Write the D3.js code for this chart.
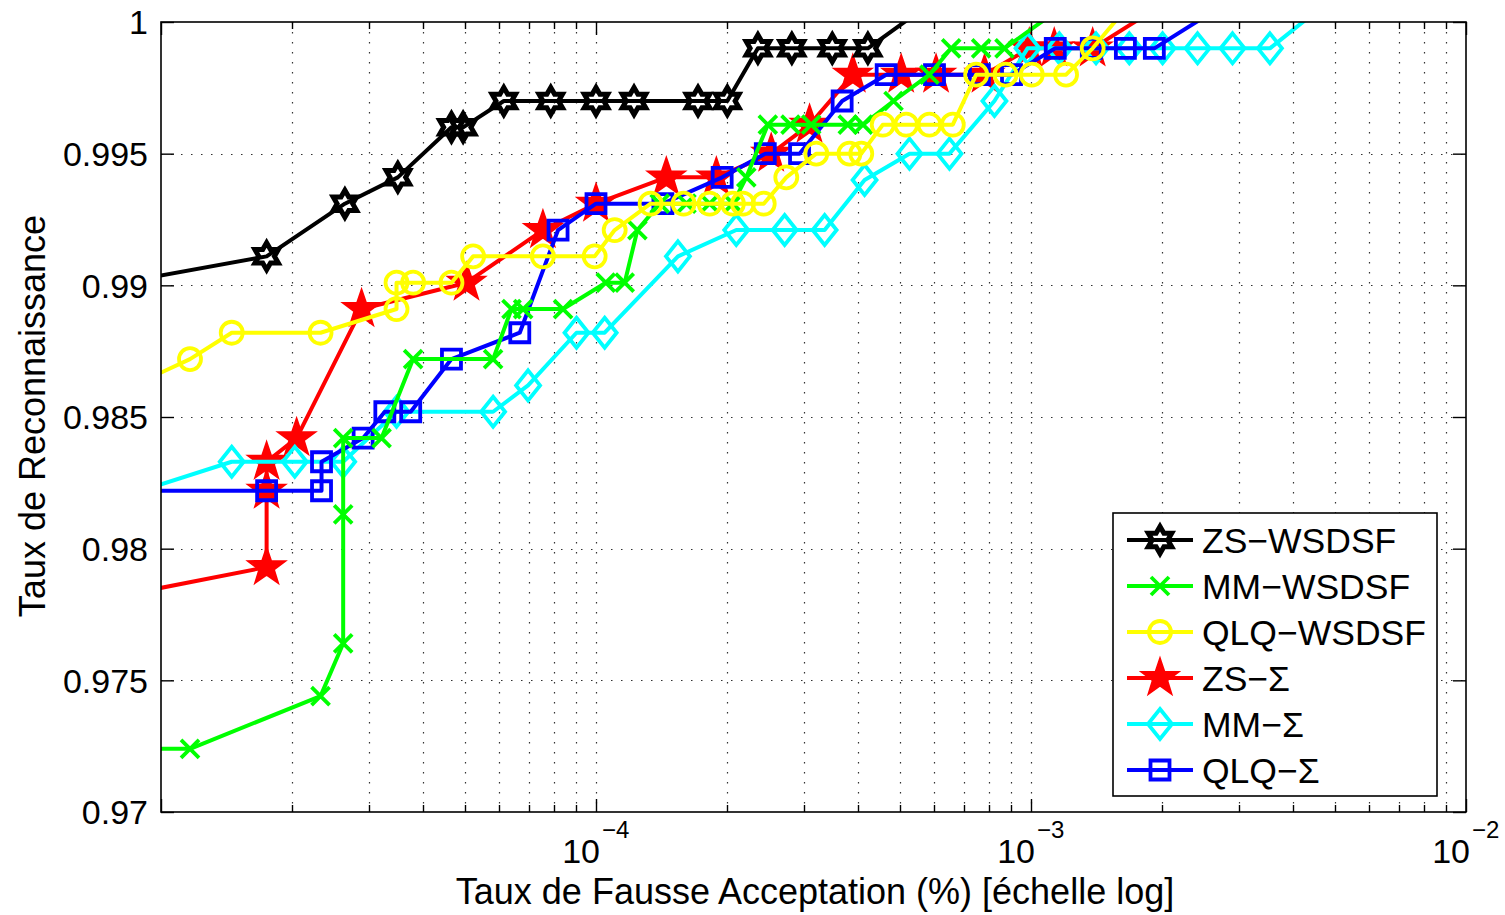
<!DOCTYPE html>
<html><head><meta charset="utf-8">
<script src="https://cdn.jsdelivr.net/npm/d3@7"></script>
<style>
body{margin:0;background:#fff;}
text{font-family:"Liberation Sans",Arial,Helvetica,sans-serif;fill:#000;}
</style>
</head><body>
<svg id="chart" width="1505" height="915"></svg>
<script>
// ---------- data ----------
const seriesNames = ["ZS\u2212WSDSF","MM\u2212WSDSF","QLQ\u2212WSDSF","ZS\u2212\u03A3","MM\u2212\u03A3","QLQ\u2212\u03A3"];

const zsWsdsfX = [8.1e-6,1.749e-5,2.647e-5,3.503e-5,4.653e-5,4.949e-5,6.138e-5,7.87e-5,1.0e-4,1.223e-4,1.716e-4,2.004e-4,2.356e-4,2.82e-4,3.493e-4,4.217e-4,6.21e-4];
const zsWsdsfY = [0.9901,0.9911,0.9931,0.9941,0.9960,0.9960,0.9970,0.9970,0.9970,0.9970,0.9970,0.9970,0.9990,0.9990,0.9990,0.9990,1.0010];

const mmWsdsfX = [8.0e-6,1.166e-5,2.327e-5,2.623e-5,2.623e-5,2.623e-5,3.214e-5,3.798e-5,5.80e-5,6.394e-5,6.80e-5,8.40e-5,1.053e-4,1.164e-4,1.245e-4,1.401e-4,1.614e-4,1.825e-4,2.064e-4,2.216e-4,2.483e-4,2.80e-4,3.124e-4,3.792e-4,4.11e-4,4.83e-4,5.84e-4,6.554e-4,7.68e-4,8.69e-4,1.283e-3];
const mmWsdsfY = [0.9724,0.9724,0.9744,0.9764,0.9813,0.9842,0.9842,0.9872,0.9872,0.9891,0.9891,0.9891,0.9901,0.9901,0.9921,0.9931,0.9931,0.9931,0.9931,0.9941,0.9961,0.9961,0.9961,0.9961,0.9961,0.9970,0.9980,0.9990,0.9990,0.9990,1.0010];

const qlqWsdsfX = [8.65e-6,1.166e-5,1.454e-5,2.327e-5,3.479e-5,3.479e-5,3.798e-5,4.653e-5,5.218e-5,7.55e-5,9.93e-5,1.104e-4,1.335e-4,1.590e-4,1.825e-4,2.064e-4,2.177e-4,2.43e-4,2.738e-4,3.209e-4,3.826e-4,4.072e-4,4.563e-4,5.165e-4,5.84e-4,6.61e-4,7.48e-4,8.74e-4,1.004e-3,1.204e-3,1.386e-3,1.75e-3];
const qlqWsdsfY = [0.9862,0.9872,0.9882,0.9882,0.9891,0.9901,0.9901,0.9901,0.9911,0.9911,0.9911,0.9921,0.9931,0.9931,0.9931,0.9931,0.9931,0.9931,0.9941,0.9950,0.9950,0.9950,0.9961,0.9961,0.9961,0.9961,0.9980,0.9980,0.9980,0.9980,0.9990,1.0010];

const zsSigmaX = [8.6e-6,1.749e-5,1.749e-5,1.749e-5,2.05e-5,2.891e-5,5.039e-5,7.55e-5,1.0e-4,1.451e-4,1.891e-4,2.528e-4,3.097e-4,3.894e-4,5.03e-4,6.05e-4,7.82e-4,9.91e-4,1.131e-3,1.386e-3,2.16e-3];
const zsSigmaY = [0.9783,0.9793,0.9822,0.9833,0.9842,0.9891,0.9901,0.9921,0.9931,0.9941,0.9941,0.9950,0.9961,0.9980,0.9980,0.9980,0.9980,0.9990,0.9990,0.9990,1.0010];

const mmSigmaX = [8.99e-6,1.454e-5,2.03e-5,2.623e-5,3.479e-5,5.80e-5,6.98e-5,9.02e-5,1.047e-4,1.543e-4,2.101e-4,2.714e-4,3.354e-4,4.144e-4,5.256e-4,6.495e-4,8.24e-4,9.82e-4,1.162e-3,1.411e-3,1.683e-3,2.007e-3,2.415e-3,2.906e-3,3.542e-3,5.02e-3];
const mmSigmaY = [0.9822,0.9833,0.9833,0.9833,0.9852,0.9852,0.9862,0.9882,0.9882,0.9911,0.9921,0.9921,0.9921,0.9940,0.9950,0.9950,0.9970,0.9990,0.9990,0.9990,0.9990,0.9990,0.9990,0.9990,0.9990,1.0010];

const qlqSigmaX = [8.0e-6,1.749e-5,2.339e-5,2.339e-5,2.915e-5,3.27e-5,3.75e-5,4.653e-5,6.68e-5,8.18e-5,1.0e-4,1.425e-4,1.95e-4,2.45e-4,2.937e-4,3.68e-4,4.646e-4,6.0e-4,7.61e-4,9.02e-4,1.137e-3,1.376e-3,1.648e-3,1.921e-3,2.996e-3];
const qlqSigmaY = [0.9822,0.9822,0.9822,0.9833,0.9842,0.9852,0.9852,0.9872,0.9882,0.9921,0.9931,0.9931,0.9941,0.9950,0.9950,0.9970,0.9980,0.9980,0.9980,0.9980,0.9990,0.9990,0.9990,0.9990,1.0010];

const yTickValues = [0.97,0.975,0.98,0.985,0.99,0.995,1];
const yTickLabels = ["0.97","0.975","0.98","0.985","0.99","0.995","1"];
const xTickValues = [1e-4,1e-3,1e-2];
const xTickBase = "10";
const xTickExponents = ["\u22124","\u22123","\u22122"];
const xLabel = "Taux de Fausse Acceptation (%) [\u00e9chelle log]";
const yLabel = "Taux de Reconnaissance";

// ---------- layout ----------
const L = 161, R = 1466, T = 22, B = 812;
const svg = d3.select("#chart");
const x = d3.scaleLog().domain([1e-5,1e-2]).range([L,R]);
const y = d3.scaleLinear().domain([0.97,1]).range([B,T]);

function polyStar(n, ro, ri){
  const pts=[];
  for(let i=0;i<2*n;i++){
    const a=-Math.PI/2+i*Math.PI/n, r=i%2?ri:ro;
    pts.push([r*Math.cos(a), r*Math.sin(a)]);
  }
  return "M"+pts.map(p=>p[0].toFixed(2)+","+p[1].toFixed(2)).join("L")+"Z";
}
const markerPath = {
  hexagram: polyStar(6,13.5,7.8),
  pentagram: polyStar(5,16.5,6.5),
  circle: "M11,0A11,11 0 1,1 -11,0A11,11 0 1,1 11,0Z",
  diamond: "M0,-15L12,0L0,15L-12,0Z",
  square: "M-9.5,-9.5L9.5,-9.5L9.5,9.5L-9.5,9.5Z",
  cross: "M-9,-9L9,9M-9,9L9,-9"
};
const markerStroke = {hexagram:5, pentagram:3.8, circle:3.8, diamond:3.8, square:3.8, cross:3.8};

const series = [
  {name:seriesNames[0], xs:zsWsdsfX, ys:zsWsdsfY, color:"#000000", marker:"hexagram", fill:false},
  {name:seriesNames[1], xs:mmWsdsfX, ys:mmWsdsfY, color:"#00ff00", marker:"cross", fill:false},
  {name:seriesNames[2], xs:qlqWsdsfX, ys:qlqWsdsfY, color:"#ffff00", marker:"circle", fill:false},
  {name:seriesNames[3], xs:zsSigmaX, ys:zsSigmaY, color:"#ff0000", marker:"pentagram", fill:true},
  {name:seriesNames[4], xs:mmSigmaX, ys:mmSigmaY, color:"#00ffff", marker:"diamond", fill:false},
  {name:seriesNames[5], xs:qlqSigmaX, ys:qlqSigmaY, color:"#0000ff", marker:"square", fill:false}
];
const drawOrder = [3,4,5,0,1,2];
const LW = 4;

svg.append("defs").append("clipPath").attr("id","plotclip")
  .append("rect").attr("x",L).attr("y",T).attr("width",R-L).attr("height",B-T);
svg.append("rect").attr("x",0).attr("y",0).attr("width",1505).attr("height",915).attr("fill","#fff");

// grid
const grid = svg.append("g").attr("stroke","#333").attr("stroke-width",1.2).attr("stroke-dasharray","1.5,8.5");
const xAll = x.ticks();
grid.selectAll("line.vg").data(xAll.filter(d=>d>1e-5 && d<1e-2)).enter().append("line")
  .attr("x1",d=>Math.round(x(d))+0.5).attr("x2",d=>Math.round(x(d))+0.5).attr("y1",T).attr("y2",B);
grid.selectAll("line.hg").data(yTickValues.filter(d=>d>0.97 && d<1)).enter().append("line")
  .attr("y1",d=>Math.round(y(d))+0.5).attr("y2",d=>Math.round(y(d))+0.5).attr("x1",L).attr("x2",R);

// series
const plot = svg.append("g").attr("clip-path","url(#plotclip)");
const line = d3.line().x(d=>x(d[0])).y(d=>y(d[1]));
drawOrder.forEach(i=>{
  const s = series[i];
  const pts = s.xs.map((v,k)=>[v,s.ys[k]]);
  const g = plot.append("g");
  g.append("path").attr("d",line(pts)).attr("fill","none").attr("stroke",s.color)
    .attr("stroke-width",LW).attr("stroke-linejoin","round");
  g.selectAll("path.m").data(pts).enter().append("path")
    .attr("d",markerPath[s.marker])
    .attr("transform",d=>`translate(${x(d[0])},${y(d[1])})`)
    .attr("fill",s.fill?s.color:"none").attr("stroke",s.color).attr("stroke-width",markerStroke[s.marker])
    .attr("stroke-linejoin","miter");
});

// axes box
const axes = svg.append("g");
axes.append("rect").attr("x",L).attr("y",T).attr("width",R-L).attr("height",B-T)
  .attr("fill","none").attr("stroke","#000").attr("stroke-width",1.6);

const tk = axes.append("g").attr("stroke","#000").attr("stroke-width",1.4);
xAll.forEach(d=>{
  const isMajor = Math.abs(Math.log10(d)-Math.round(Math.log10(d)))<1e-9;
  const len = isMajor?13:7;
  const px = Math.round(x(d))+0.5;
  tk.append("line").attr("x1",px).attr("x2",px).attr("y1",B).attr("y2",B-len);
  tk.append("line").attr("x1",px).attr("x2",px).attr("y1",T).attr("y2",T+len);
});
const yAxis = d3.axisLeft(y).tickValues(yTickValues).tickFormat((d,i)=>yTickLabels[i])
  .tickSizeInner(-13).tickSizeOuter(0).tickPadding(13);
const ya = axes.append("g").attr("transform",`translate(${L},0)`).call(yAxis);
ya.select(".domain").remove();
ya.selectAll("line").attr("stroke","#000").attr("stroke-width",1.4);
ya.selectAll("text").attr("font-size",34).attr("font-family","Liberation Sans, Arial, sans-serif").attr("dy","0.35em");
const yAxisR = d3.axisRight(y).tickValues(yTickValues).tickFormat("").tickSizeInner(-13).tickSizeOuter(0);
const yr = axes.append("g").attr("transform",`translate(${R},0)`).call(yAxisR);
yr.select(".domain").remove();
yr.selectAll("line").attr("stroke","#000").attr("stroke-width",1.4);

// x tick labels: base and exponent as separate texts
const xl = axes.append("g");
xTickValues.forEach((v,i)=>{
  xl.append("text").attr("x",x(v)+4).attr("y",863).attr("text-anchor","end").attr("font-size",34).text(xTickBase);
  xl.append("text").attr("x",x(v)+6).attr("y",838).attr("text-anchor","start").attr("font-size",24).text(xTickExponents[i]);
});

// axis labels
svg.append("text").attr("x",815).attr("y",904).attr("text-anchor","middle").attr("font-size",36).text(xLabel);
svg.append("text").attr("transform","translate(45,416) rotate(-90)").attr("text-anchor","middle").attr("font-size",36).text(yLabel);

// legend
const lg = svg.append("g");
lg.append("rect").attr("x",1113).attr("y",513).attr("width",324).attr("height",283)
  .attr("fill","#fff").attr("stroke","#000").attr("stroke-width",1.6);
series.forEach((s,i)=>{
  const cy = 540 + i*46;
  lg.append("line").attr("x1",1127).attr("x2",1193).attr("y1",cy).attr("y2",cy)
    .attr("stroke",s.color).attr("stroke-width",LW);
  lg.append("path").attr("d",markerPath[s.marker]).attr("transform",`translate(1160,${cy})`)
    .attr("fill",s.fill?s.color:"none").attr("stroke",s.color).attr("stroke-width",markerStroke[s.marker]);
  lg.append("text").attr("x",1202).attr("y",cy).attr("dy","0.36em").attr("font-size",35.5).text(s.name);
});
</script>
</body></html>
